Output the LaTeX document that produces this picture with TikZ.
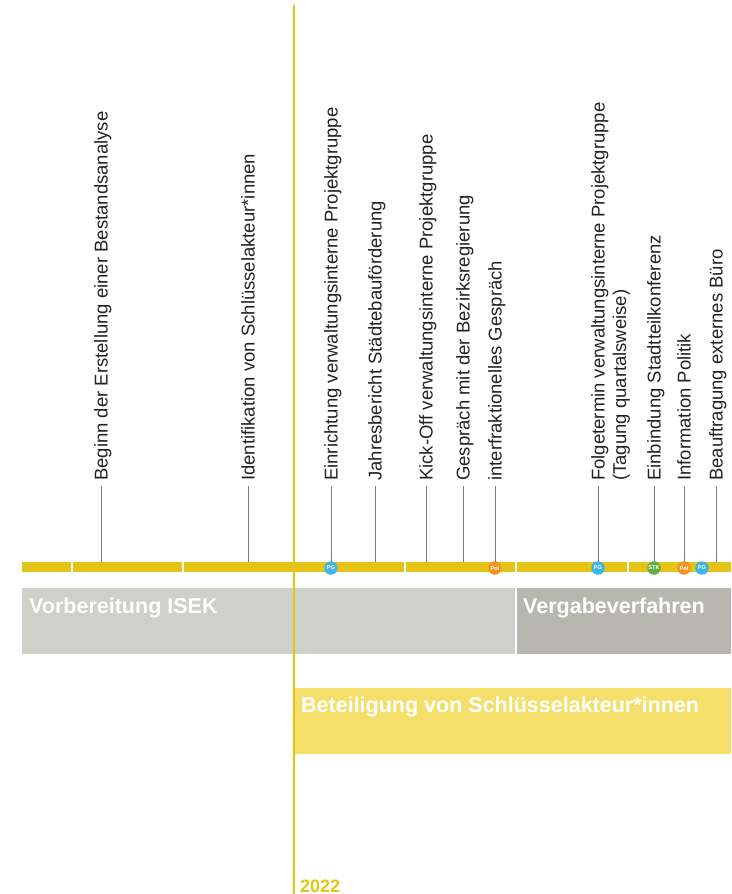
\documentclass[tikz,border=0pt]{standalone}
\usepackage{fontspec}
\setmainfont{Liberation Sans}
\definecolor{barY}{HTML}{E5C416}
\definecolor{boxY}{HTML}{F4DF6B}
\definecolor{lightG}{HTML}{CFD0CA}
\definecolor{darkG}{HTML}{B7B7B0}
\definecolor{pgC}{HTML}{3DB5E6}
\definecolor{polC}{HTML}{F39325}
\definecolor{stkC}{HTML}{63AD45}
\definecolor{tickG}{HTML}{7A7A7A}
\definecolor{labT}{HTML}{222222}
\begin{document}
\begin{tikzpicture}[x=1pt,y=-1pt,
  lab/.style={rotate=90,anchor=base west,inner sep=0pt,text=labT,font=\fontsize{18.5}{21}\selectfont},
  tickline/.style={draw=tickG,line width=1pt},
  dot/.style={circle,inner sep=0pt,minimum size=13.5pt,text=white,font=\fontsize{5.6}{6}\selectfont\bfseries},
  phase/.style={anchor=base west,inner sep=0pt,text=white,font=\fontsize{21.5}{24}\selectfont\bfseries},
  seg/.style={fill=barY}]
\useasboundingbox (0,0) rectangle (731,894);
% timeline bar
\fill[seg] (22,562) rectangle (71,572);
\fill[seg] (73,562) rectangle (182,572);
\fill[seg] (184,562) rectangle (404,572);
\fill[seg] (406,562) rectangle (515,572);
\fill[seg] (517,562) rectangle (627,572);
\fill[seg] (629,562) rectangle (731,572);
% labels
\node[lab] (l1) at (107.6,481) {Beginn der Erstellung einer Bestandsanalyse};
\node[lab] (l2) at (254.6,481) {Identifikation von Schlüsselakteur*innen};
\node[lab] (l3) at (337.6,481) {Einrichtung verwaltungsinterne Projektgruppe};
\node[lab] (l4) at (381.6,481) {Jahresbericht Städtebauförderung};
\node[lab] (l5) at (432.6,481) {Kick-Off verwaltungsinterne Projektgruppe};
\node[lab] (l6) at (469.6,481) {Gespräch mit der Bezirksregierung};
\node[lab] (l7) at (501.6,481) {interfraktionelles Gespräch};
\node[lab] (l8) at (604.6,481) {Folgetermin verwaltungsinterne Projektgruppe};
\node[lab] (l8b) at (626,481) {(Tagung quartalsweise)};
\node[lab] (l9) at (660.6,481) {Einbindung Stadtteilkonferenz};
\node[lab] (l10) at (690.6,481) {Information Politik};
\node[lab] (l11) at (722.6,481) {Beauftragung externes Büro};
% bar anchor points
\foreach \n/\x in {1/101,2/248,3/331,4/375,5/426,6/463,7/495,8/598,9/654,10/684,11/716}{
  \coordinate (b\n) at (\x,562);
  \draw[tickline] ([xshift=-6.6pt,yshift=-5pt]l\n.base west) -- (b\n);
}
% dots
\node[dot,fill=pgC] (d1) at (331,568) {PG};
\node[dot,fill=polC] (d2) at (495,568) {Pol};
\node[dot,fill=pgC] (d3) at (598,568) {PG};
\node[dot,fill=stkC] (d4) at (654,568) {STK};
\node[dot,fill=polC] (d5) at (684,568) {Pol};
\node[dot,fill=pgC] (d6) at (702,568) {PG};
% phase boxes
\fill[lightG] (22,588) rectangle (515,654);
\fill[darkG] (517,588) rectangle (731,654);
\fill[boxY] (295,688) rectangle (731,754);
\node[phase] (p1) at (29,613) {Vorbereitung ISEK};
\node[phase] (p2) at (523,613) {Vergabeverfahren};
\node[phase] (p3) at (301,712) {Beteiligung von Schlüsselakteur*innen};
% year line
\draw[barY,line width=2pt] (294,5) -- (294,894);
\node[anchor=base west,inner sep=0pt,text=barY,font=\fontsize{18}{20}\selectfont\bfseries] (yr) at (300,892) {2022};
\end{tikzpicture}
\end{document}
